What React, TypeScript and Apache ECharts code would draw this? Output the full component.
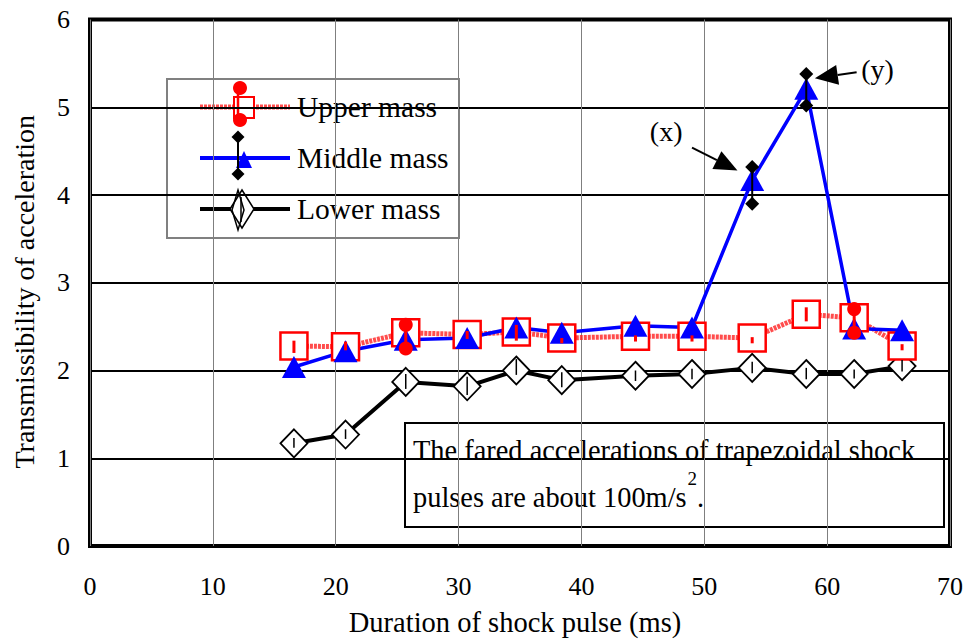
import React, { useEffect, useRef } from "react";
import * as echarts from "echarts";

// Shock pulse durations (ms), shared by the three masses
const durations = [16.6, 20.8, 25.7, 30.7, 34.7, 38.4, 44.4, 49.0, 53.9, 58.3, 62.2, 66.1];

// Mean transmissibility of acceleration
const upperMass = [2.28, 2.27, 2.43, 2.41, 2.44, 2.37, 2.39, 2.39, 2.37, 2.64, 2.6, 2.28];
const middleMass = [2.04, 2.22, 2.35, 2.37, 2.49, 2.43, 2.51, 2.49, 4.17, 5.21, 2.48, 2.46];
const lowerMass = [1.17, 1.27, 1.87, 1.82, 2.0, 1.89, 1.94, 1.96, 2.03, 1.96, 1.96, 2.05];

// Scatter range (min / max) of each measurement
const upperLow = [2.2, 2.23, 2.25, 2.36, 2.34, 2.31, 2.33, 2.33, 2.31, 2.56, 2.43, 2.23];
const upperHigh = [2.34, 2.33, 2.52, 2.45, 2.52, 2.37, 2.4, 2.4, 2.38, 2.72, 2.7, 2.3];
const middleLow = [2.04, 2.22, 2.35, 2.37, 2.49, 2.43, 2.51, 2.49, 3.9, 5.02, 2.48, 2.46];
const middleHigh = [2.04, 2.22, 2.35, 2.37, 2.49, 2.43, 2.51, 2.49, 4.32, 5.38, 2.48, 2.46];
const lowerLow = [1.12, 1.22, 1.79, 1.72, 1.95, 1.81, 1.88, 1.9, 1.97, 1.9, 1.91, 1.99];
const lowerHigh = [1.23, 1.33, 1.96, 1.93, 2.13, 1.98, 2.0, 2.02, 2.1, 2.03, 2.01, 2.12];

const seriesNames = ["Upper mass", "Middle mass", "Lower mass"];

// Axis ranges
const xMin = 0;
const xMax = 70;
const xStep = 10;
const yMin = 0;
const yMax = 6;
const yStep = 1;

// Annotation arrows: label, label position, arrow start, arrow tip
const annotations: { label: string; at: number[]; from: number[]; to: number[] }[] = [
  { label: "(x)", at: [46.9, 4.72], from: [49.0, 4.54], to: [52.7, 4.28] },
  { label: "(y)", at: [64.1, 5.43], from: [62.4, 5.4], to: [59.0, 5.33] },
];

const noteLine1 = "The fared accelerations of trapezoidal shock";
const noteLine2 = "pulses are about 100m/s";
const noteSup = "2";
const noteEnd = ".";

const FONT = "Liberation Serif";
const NOTE_SIZE = 28.4;
const LEGEND_SIZE = 29.5;

function textWidth(text: string, size: number) {
  const ctx = document.createElement("canvas").getContext("2d");
  if (!ctx) return text.length * size * 0.45;
  ctx.font = `${size}px "Liberation Serif"`;
  return ctx.measureText(text).width;
}

function errorBars(
  low: number[],
  high: number[],
  color: string,
  lineWidth: number,
  cap: "circle" | "diamond",
  capSize: number
) {
  return {
    type: "custom",
    silent: true,
    z: 5,
    data: durations.map((d, i) => [d, low[i], high[i]]),
    encode: { x: 0, y: [1, 2] },
    renderItem: (_params: any, api: any) => {
      const x = api.value(0);
      const top = api.coord([x, api.value(2)]);
      const bot = api.coord([x, api.value(1)]);
      const children: any[] = [];
      if (bot[1] - top[1] < 0.5) return { type: "group", children };
      children.push({
        type: "line",
        shape: { x1: top[0], y1: top[1], x2: bot[0], y2: bot[1] },
        style: { stroke: color, lineWidth },
      });
      // end markers only show when the spread reaches past the point marker
      if (bot[1] - top[1] > 20) {
        for (const p of [top, bot]) {
          if (cap === "circle") {
            children.push({ type: "circle", shape: { cx: p[0], cy: p[1], r: capSize }, style: { fill: color } });
          } else {
            children.push({
              type: "polygon",
              shape: {
                points: [
                  [p[0], p[1] - capSize],
                  [p[0] + capSize, p[1]],
                  [p[0], p[1] + capSize],
                  [p[0] - capSize, p[1]],
                ],
              },
              style: { fill: color },
            });
          }
        }
      }
      return { type: "group", children };
    },
  };
}

// Arrow shaft plus a filled head ending exactly at the tip
function arrowSeries() {
  return {
    type: "custom",
    silent: true,
    z: 6,
    data: annotations.map((a) => [a.from[0], a.from[1], a.to[0], a.to[1]]),
    encode: { x: [0, 2], y: [1, 3] },
    renderItem: (_params: any, api: any) => {
      const s = api.coord([api.value(0), api.value(1)]);
      const t = api.coord([api.value(2), api.value(3)]);
      const dx = t[0] - s[0];
      const dy = t[1] - s[1];
      const len = Math.hypot(dx, dy);
      const ux = dx / len;
      const uy = dy / len;
      const headLen = 23;
      const headHalf = 10;
      const bx = t[0] - ux * headLen;
      const by = t[1] - uy * headLen;
      return {
        type: "group",
        children: [
          {
            type: "line",
            shape: { x1: s[0], y1: s[1], x2: bx, y2: by },
            style: { stroke: "#000", lineWidth: 2 },
          },
          {
            type: "polygon",
            shape: {
              points: [
                [t[0], t[1]],
                [bx - uy * headHalf, by + ux * headHalf],
                [bx + uy * headHalf, by - ux * headHalf],
              ],
            },
            style: { fill: "#000" },
          },
        ],
      };
    },
  };
}

function legendGraphic() {
  const lx1 = 200;
  const lx2 = 290;
  const mx = 238;
  const yU = 107;
  const yM = 158;
  const yL = 209;
  const txt = (t: string, y: number) => ({
    type: "text",
    x: 297,
    y,
    style: { text: t, fontSize: LEGEND_SIZE, fontFamily: FONT, fill: "#000", verticalAlign: "middle", align: "left" },
  });
  const diamond = (cx: number, cy: number, w: number, h: number, fill: string, stroke?: string) => ({
    type: "polygon",
    shape: { points: [[cx, cy - h], [cx + w, cy], [cx, cy + h], [cx - w, cy]] },
    style: { fill, stroke: stroke || null, lineWidth: 1.5 },
  });
  return {
    type: "group",
    z: 20,
    children: [
      {
        type: "rect",
        shape: { x: 167, y: 79, width: 292, height: 159 },
        style: { fill: "#fff", stroke: "#808080", lineWidth: 2 },
      },
      // upper mass
      {
        type: "line",
        shape: { x1: lx1, y1: yU, x2: lx2, y2: yU },
        style: { stroke: "#ff2020", lineWidth: 5, lineDash: [3, 1], opacity: 0.8 },
      },
      { type: "rect", shape: { x: 234, y: 97, width: 20, height: 21 }, style: { fill: "#fff", stroke: "#ff0000", lineWidth: 2 } },
      { type: "line", shape: { x1: 238, y1: 88, x2: 238, y2: 120 }, style: { stroke: "#ff0000", lineWidth: 2.5 } },
      { type: "circle", shape: { cx: 240, cy: 88, r: 7 }, style: { fill: "#ff0000" } },
      { type: "circle", shape: { cx: 240, cy: 120, r: 7 }, style: { fill: "#ff0000" } },
      txt(seriesNames[0], yU),
      // middle mass
      { type: "line", shape: { x1: lx1, y1: yM, x2: lx2, y2: yM }, style: { stroke: "#0000ff", lineWidth: 4 } },
      {
        type: "polygon",
        shape: { points: [[244, 151], [252, 168], [236, 168]] },
        style: { fill: "#0000ff" },
      },
      { type: "line", shape: { x1: mx, y1: 137, x2: mx, y2: 174 }, style: { stroke: "#000", lineWidth: 2 } },
      diamond(mx, 137, 6.5, 6.5, "#000"),
      diamond(mx, 174, 6.5, 6.5, "#000"),
      txt(seriesNames[1], yM),
      // lower mass
      { type: "line", shape: { x1: lx1, y1: yL, x2: lx2, y2: yL }, style: { stroke: "#000", lineWidth: 4 } },
      diamond(242, yL, 12, 19, "#fff", "#000"),
      diamond(mx, yL + 1, 6, 20, "none", "#000"),
      { type: "line", shape: { x1: mx + 3, y1: 197, x2: mx + 3, y2: 222 }, style: { stroke: "#000", lineWidth: 1.5 } },
      txt(seriesNames[2], yL),
    ],
  };
}

function noteGraphic() {
  const left = 413;
  const w2 = textWidth(noteLine2, NOTE_SIZE);
  const wSup = textWidth(noteSup, 19);
  const base = { fontSize: NOTE_SIZE, fontFamily: FONT, fill: "#000", verticalAlign: "bottom", align: "left" };
  return {
    type: "group",
    z: 20,
    children: [
      {
        type: "rect",
        shape: { x: 405, y: 423, width: 539, height: 104 },
        style: { fill: "#fff", stroke: "#000", lineWidth: 2 },
      },
      { type: "text", x: left, y: 464, style: { ...base, text: noteLine1 } },
      { type: "text", x: left, y: 511, style: { ...base, text: noteLine2 } },
      {
        type: "text",
        x: left + w2 + 1,
        y: 488,
        style: { ...base, fontSize: 19, text: noteSup },
      },
      { type: "text", x: left + w2 + wSup + 1, y: 511, style: { ...base, text: noteEnd } },
    ],
  };
}

export default function App() {
  const ref = useRef<HTMLDivElement>(null);

  useEffect(() => {
    if (!ref.current) return;
    const chart = echarts.init(ref.current, undefined, { renderer: "svg" });

    const pts = (vals: number[]) => durations.map((d, i) => [d, vals[i]]);

    const option: any = {
      animation: false,
      backgroundColor: "#fff",
      textStyle: { fontFamily: FONT },
      grid: {
        left: 90,
        right: 16,
        top: 19.5,
        bottom: 91.5,
        show: true,
        borderColor: "#000",
        borderWidth: 4,
        backgroundColor: "transparent",
      },
      xAxis: {
        type: "value",
        min: xMin,
        max: xMax,
        interval: xStep,
        name: "Duration of shock pulse (ms)",
        nameLocation: "middle",
        nameGap: 62,
        nameTextStyle: { fontSize: 28.5, fontFamily: FONT, color: "#000", padding: [0, 10, 0, 0] },
        axisLine: { show: false },
        axisTick: { show: false },
        axisLabel: { fontSize: 26, fontFamily: FONT, color: "#000", margin: 27 },
        splitLine: { show: true, lineStyle: { color: "#7f7f7f", width: 1 } },
      },
      yAxis: {
        type: "value",
        min: yMin,
        max: yMax,
        interval: yStep,
        name: "Transmissibility of acceleration",
        nameLocation: "middle",
        nameGap: 52,
        nameRotate: 90,
        nameTextStyle: { fontSize: 28, fontFamily: FONT, color: "#000", padding: [0, 18, 0, 0] },
        axisLine: { show: false },
        axisTick: { show: false },
        axisLabel: { fontSize: 26, fontFamily: FONT, color: "#000", margin: 20 },
        splitLine: { show: true, lineStyle: { color: "#000", width: 2 } },
      },
      series: [
        {
          name: seriesNames[2],
          type: "line",
          z: 2,
          data: pts(lowerMass),
          symbol: "diamond",
          symbolSize: [27, 28],
          itemStyle: { color: "#fff", borderColor: "#000", borderWidth: 1.8 },
          lineStyle: { color: "#000", width: 4 },
        },
        {
          name: seriesNames[0],
          type: "line",
          z: 2,
          data: pts(upperMass),
          symbol: "rect",
          symbolSize: [27, 27],
          itemStyle: { color: "#fff", borderColor: "#ff0000", borderWidth: 2.5 },
          lineStyle: { color: "#ff2020", width: 5, type: [3, 1], opacity: 0.8 },
        },
        {
          name: seriesNames[1],
          type: "line",
          z: 2,
          data: pts(middleMass),
          symbol: "triangle",
          symbolSize: [24, 22],
          itemStyle: { color: "#0000ff" },
          lineStyle: { color: "#0000ff", width: 3.5 },
          markPoint: {
            silent: true,
            symbol: "circle",
            symbolSize: 0,
            label: {
              show: true,
              position: "inside",
              fontSize: 28,
              fontFamily: FONT,
              color: "#000",
              formatter: (p: any) => p.name,
            },
            data: annotations.map((a) => ({ name: a.label, coord: a.at })),
          },
        },
        errorBars(upperLow, upperHigh, "#ff0000", 3, "circle", 7),
        errorBars(middleLow, middleHigh, "#000", 2, "diamond", 7),
        errorBars(lowerLow, lowerHigh, "#000", 1.5, "diamond", 7),
        arrowSeries(),
      ],
      graphic: [legendGraphic(), noteGraphic()],
    };

    chart.setOption(option);
    return () => chart.dispose();
  }, []);

  return (
    <div
      ref={ref}
      style={{ position: "fixed", left: 0, top: 0, width: 966, height: 642, background: "#fff" }}
    />
  );
}
